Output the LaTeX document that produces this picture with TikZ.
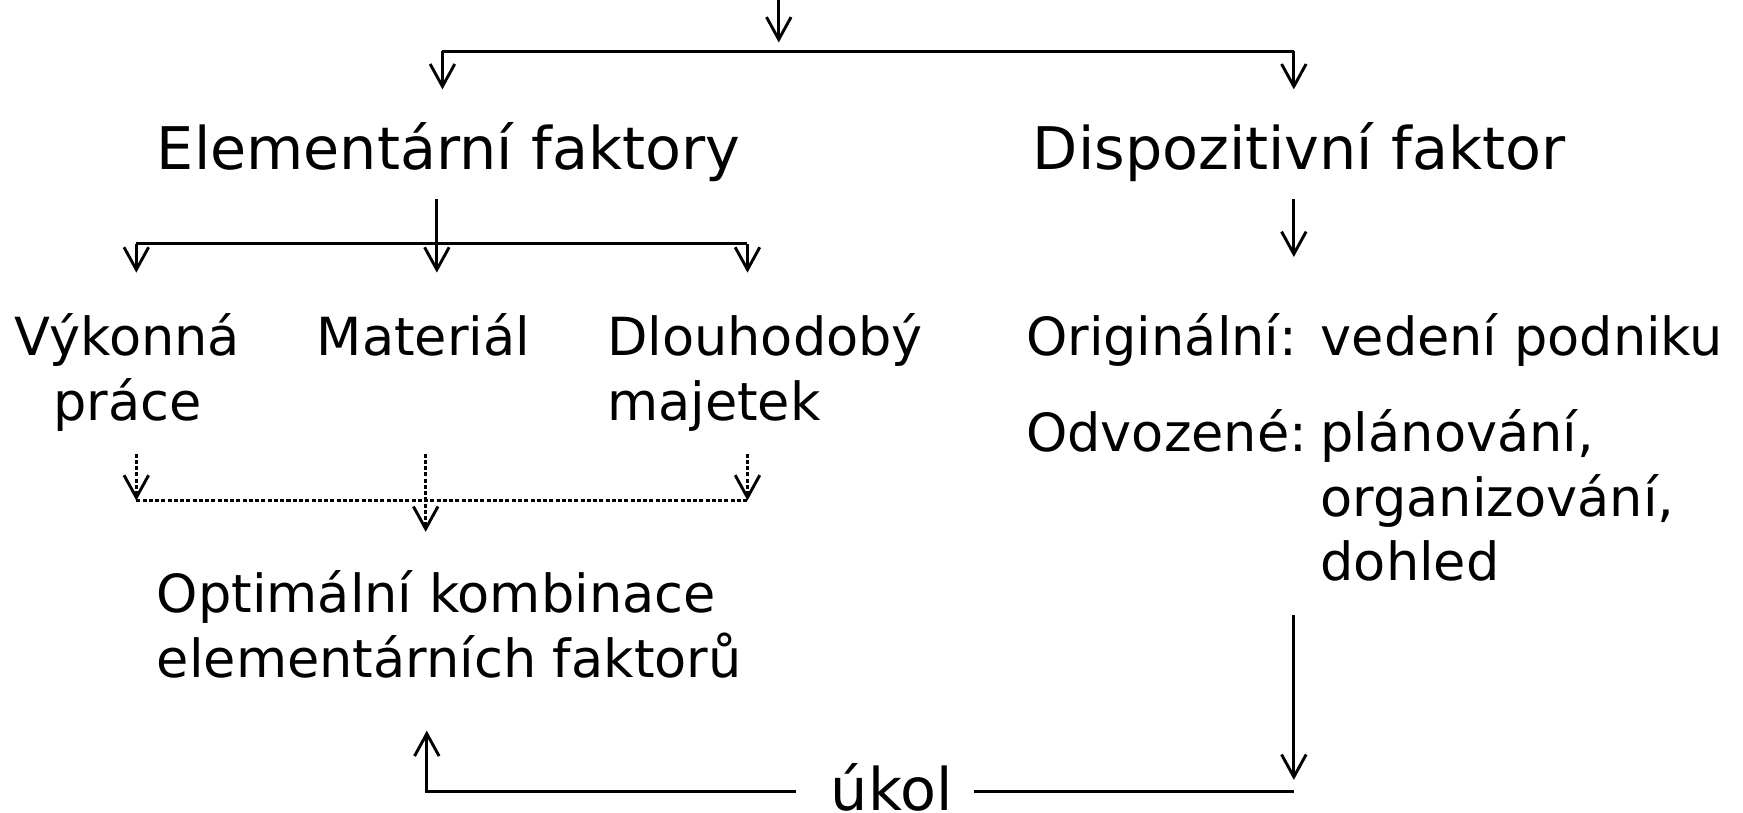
\documentclass[tikz,border=0pt]{standalone}
\usepackage{fontspec}
\setmainfont{DejaVu Sans}
\usetikzlibrary{arrows.meta}
\tikzset{
  every node/.style={inner sep=0pt},
  big/.style={font=\fontsize{26.3}{29}\selectfont},
  small/.style={font=\fontsize{23.5}{29}\selectfont},
  link/.style={line width=1.3pt},
  arr/.style={link, -{Straight Barb[length=10pt,width=11pt]}},
  dots/.style={line width=1.3pt, dash pattern=on 1.8pt off 1pt},
  darr/.style={dots, -{Straight Barb[length=10pt,width=11pt,line width=1.3pt]}},
}

\begin{document}
\begin{tikzpicture}[x=0.5pt,y=-0.5pt]
  \useasboundingbox (0,0) rectangle (1560,727);

  % texts
  \node[big, anchor=base west] (elem) at (140,152) {Elementární faktory};
  \node[big, anchor=base west] (disp) at (924,152) {Dispozitivní faktor};
  \node[small, anchor=base, align=center] (vyk) at (114,376) {Výkonná\\práce};
  \node[small, anchor=base] (mat) at (379,318) {Materiál};
  \node[small, anchor=base west, align=left] (dlo) at (543,376) {Dlouhodobý\\majetek};
  \node[small, anchor=base west] (orig) at (918,318) {%
    \begin{tabular}[t]{@{}l@{\hspace{6pt}}l@{}}
      Originální: & vedení podniku\\[14pt]
      Odvozené: & plánování,\\
                & organizování,\\
                & dohled
    \end{tabular}};
  \node[small, anchor=base west, align=left] (opt) at (140,606) {Optimální kombinace\\elementárních faktorů};
  \node[big, anchor=base] (ukol) at (798,725) {úkol};

  % top split
  \coordinate (in) at (697,0);
  \coordinate (inend) at (697,38);
  \coordinate (sl) at (396,46);
  \coordinate (sr) at (1158,46);
  \draw[arr] (in) -- (inend);
  \draw[link] (sl) -- (sr);
  \draw[arr] (sl) -- (396,80);
  \draw[arr] (sr) -- (1158,80);

  % elementary factors split
  \coordinate (el) at (122,218);
  \coordinate (er) at (669,218);
  \draw[arr] (391,178) -- (391,244);
  \draw[link] (el) -- (er);
  \draw[arr] (el) -- (122,244);
  \draw[arr] (er) -- (669,244);
  \draw[arr] (1158,178) -- (1158,230);

  % combination
  \coordinate (cl) at (122,448);
  \coordinate (cr) at (669,448);
  \draw[darr] (122,406) -- (cl);
  \draw[darr] (669,406) -- (cr);
  \draw[dots] (cl) -- (cr);
  \draw[darr] (381,406) -- (381,476);

  % feedback
  \coordinate (rtop) at (1158,550);
  \coordinate (rbot) at (1158,708);
  \coordinate (lbot) at (382,708);
  \draw[arr] (rtop) -- (1158,698);
  \draw[link] (rbot) -- (872,708);
  \draw[arr] (712,708) -- (lbot) -- (382,654);
\end{tikzpicture}
\end{document}
